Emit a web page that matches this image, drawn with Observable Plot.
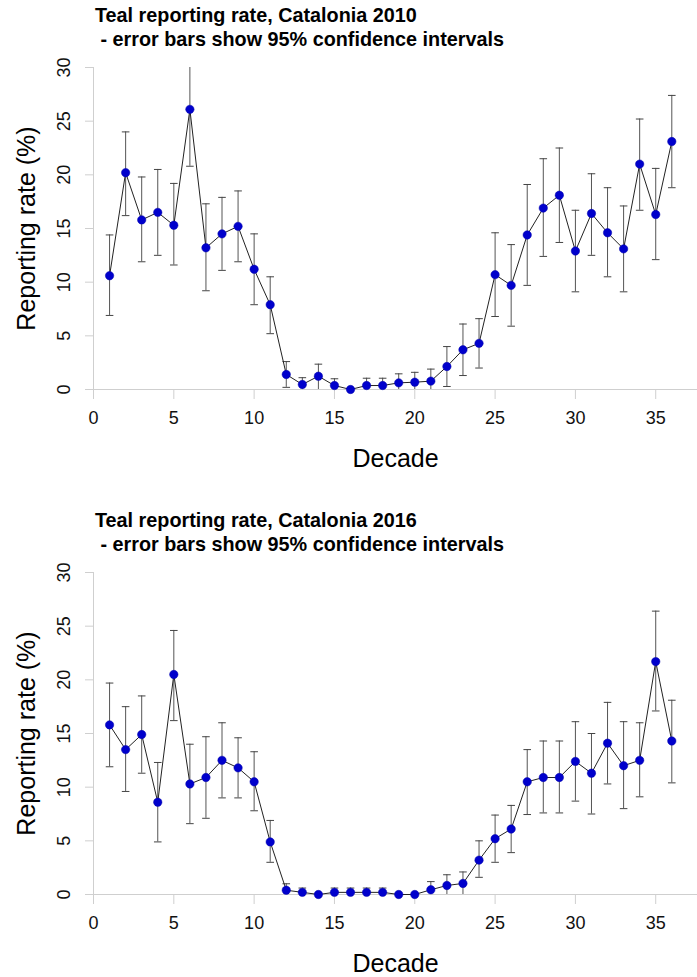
<!DOCTYPE html>
<html>
<head>
<meta charset="utf-8">
<script src="https://cdn.jsdelivr.net/npm/d3@7"></script>
<script src="https://cdn.jsdelivr.net/npm/@observablehq/plot@0.6"></script>
<style>
  body { margin: 0; background: #fff; font-family: "Liberation Sans", Arial, sans-serif; }
  #wrap { position: relative; width: 697px; height: 977px; overflow: hidden; }
  .title { position: absolute; left: 95px; font-weight: bold; font-size: 19.8px; line-height: 24px; color: #000; white-space: pre; }
  .chart { position: absolute; left: 0; }
</style>
</head>
<body>
<div id="wrap"></div>
<script>
// ---- data ----
const decades = d3.range(1, 37);

const rate2010 = [10.6,20.2,15.8,16.5,15.3,26.1,13.2,14.5,15.2,11.2,7.9,1.4,0.47,1.24,0.37,0,0.37,0.37,0.62,0.68,0.78,2.14,3.7,4.3,10.7,9.7,14.4,16.9,18.1,12.9,16.4,14.6,13.1,21.0,16.3,23.1];
const lo2010   = [6.9,16.2,11.9,12.5,11.6,20.8,9.2,11.1,11.9,7.9,5.2,0.2,0,0,0,0,0,0,0,0,0,0.28,1.3,2.0,6.8,5.9,9.7,12.4,13.7,9.1,12.5,10.5,9.1,16.7,12.1,18.8];
const hi2010   = [14.4,24.0,19.8,20.5,19.2,31.5,17.3,17.9,18.5,14.5,10.5,2.6,1.1,2.36,1.0,0,1.05,1.05,1.46,1.6,1.9,4.0,6.1,6.6,14.6,13.5,19.1,21.5,22.5,16.7,20.1,18.8,17.1,25.2,20.6,27.4];

const rate2016 = [15.8,13.5,14.9,8.6,20.5,10.3,10.9,12.5,11.8,10.5,4.9,0.4,0.2,0,0.2,0.2,0.2,0.2,0,0,0.44,0.84,1.03,3.2,5.2,6.1,10.5,10.9,10.9,12.4,11.3,14.1,12.0,12.5,21.7,14.3];
const lo2016   = [11.9,9.6,11.3,4.9,16.2,6.6,7.1,9.0,9.0,7.8,3.0,0,0,0,0,0,0,0,0,0,0,0,0,1.6,3.0,3.9,7.45,7.6,7.6,8.7,7.5,10.3,8.0,9.1,17.1,10.4];
const hi2016   = [19.7,17.5,18.5,12.3,24.6,14.0,14.7,16.0,14.6,13.3,6.9,1.0,0.6,0,0.6,0.6,0.6,0.6,0,0,1.2,1.84,2.1,5.0,7.4,8.3,13.5,14.3,14.3,16.1,15.0,17.9,16.1,16.0,26.4,18.1];

const xTicks = [0, 5, 10, 15, 20, 25, 30, 35];
const yTicks = [0, 5, 10, 15, 20, 25, 30];
const titles = [
  ["Teal reporting rate, Catalonia 2010", " - error bars show 95% confidence intervals"],
  ["Teal reporting rate, Catalonia 2016", " - error bars show 95% confidence intervals"]
];
const xLabel = "Decade";
const yLabel = "Reporting rate (%)";

// horizontal cap symbol for error bars
const capSymbol = {
  draw(context, size) {
    const w = Math.sqrt(size / Math.PI);
    context.moveTo(-w, 0);
    context.lineTo(w, 0);
  }
};

function makeTable(rate, lo, hi) {
  return decades.map((d, i) => ({decade: d, rate: rate[i], lo: lo[i], hi: hi[i]}));
}

function drawChart(table, title, offset) {
  const wrap = document.getElementById("wrap");
  const t = document.createElement("div");
  t.className = "title";
  t.style.top = (offset + 3) + "px";
  t.textContent = title[0] + "\n" + title[1];
  wrap.appendChild(t);

  const bars = table.filter(d => d.hi > d.lo);
  const font = "Liberation Sans, Arial, sans-serif";
  const plot = Plot.plot({
    width: 697,
    height: 440,
    marginTop: 12,
    marginLeft: 93,
    marginRight: 0,
    marginBottom: 106,
    style: {fontFamily: font, background: "white", overflow: "visible"},
    x: {domain: [0, 37.6]},
    y: {domain: [0, 30]},
    marks: [
      Plot.ruleY([0], {stroke: "#cfcfcf"}),
      Plot.ruleX([0], {stroke: "#cfcfcf"}),
      Plot.axisX(xTicks, {tickSize: 10, tickPadding: 12, stroke: "#cfcfcf", fill: "#111", fontSize: 18, label: null}),
      Plot.axisY(yTicks, {tickSize: 8, stroke: "#cfcfcf", tickFormat: () => "", label: null}),
      Plot.text(yTicks, {y: d => d, text: d => String(d), frameAnchor: "left", dx: -29, rotate: -90, textAnchor: "middle", lineAnchor: "middle", fontSize: 18, fill: "#111"}),
      Plot.text([xLabel], {text: d => d, frameAnchor: "bottom", dy: 69, textAnchor: "middle", lineAnchor: "middle", fontSize: 25, fill: "#000"}),
      Plot.text([yLabel], {text: d => d, frameAnchor: "left", dx: -67, rotate: -90, textAnchor: "middle", lineAnchor: "middle", fontSize: 25, fill: "#000"}),
      Plot.ruleX(bars, {x: "decade", y1: "lo", y2: "hi", stroke: "#555", strokeWidth: 1, clip: true}),
      Plot.dot(bars, {x: "decade", y: "lo", symbol: capSymbol, r: 3.8, stroke: "#444", strokeWidth: 1, clip: true}),
      Plot.dot(bars, {x: "decade", y: "hi", symbol: capSymbol, r: 3.8, stroke: "#444", strokeWidth: 1, clip: true}),
      Plot.line(table, {x: "decade", y: "rate", stroke: "#222", strokeWidth: 1}),
      Plot.dot(table, {x: "decade", y: "rate", r: 4.2, fill: "#0000CC", stroke: "#0000AA", strokeWidth: 0.5})
    ]
  });
  plot.classList.add("chart");
  plot.style.position = "absolute";
  plot.style.top = (offset + 55) + "px";
  wrap.appendChild(plot);
}

drawChart(makeTable(rate2010, lo2010, hi2010), titles[0], 0);
drawChart(makeTable(rate2016, lo2016, hi2016), titles[1], 505);
</script>
</body>
</html>
